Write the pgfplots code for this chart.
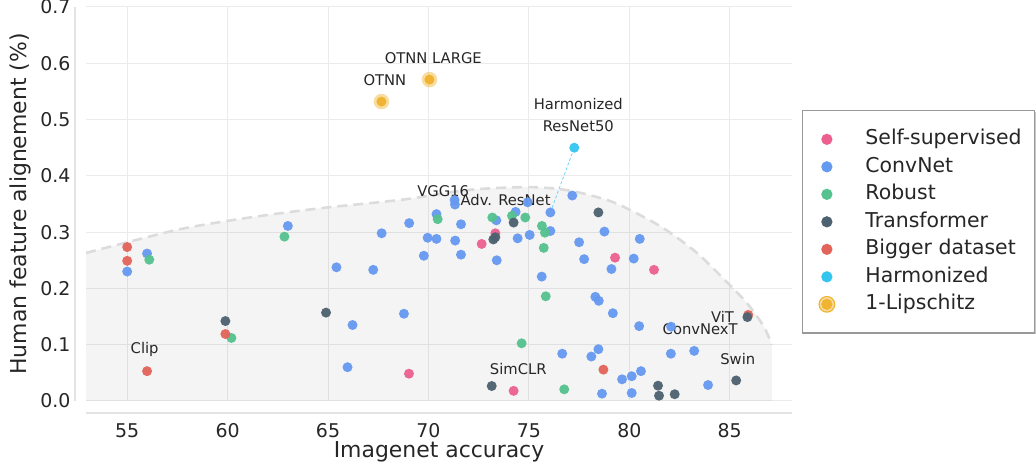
\documentclass[border=0pt]{standalone}
\usepackage{fontspec}
\setmainfont{DejaVu Sans}
\usepackage{pgfplots}
\pgfplotsset{compat=1.18}
\definecolor{cSelf}{HTML}{EC6090}
\definecolor{cConv}{HTML}{6699F0}
\definecolor{cRob}{HTML}{55C28F}
\definecolor{cTrans}{HTML}{4D6270}
\definecolor{cBig}{HTML}{E2645A}
\definecolor{cHarm}{HTML}{33C5EE}
\definecolor{cLip}{HTML}{F0B432}
\definecolor{txt}{HTML}{262626}
\definecolor{gridc}{HTML}{EBEBEB}
\definecolor{spinec}{HTML}{E3E3E3}
\definecolor{frontc}{HTML}{DCDCDC}
\pgfdeclareplotmark{halo}{%
  \pgfscope\pgfsetfillopacity{0.45}\pgfpathcircle{\pgfpointorigin}{7.8bp}\pgfusepath{fill}\endpgfscope
  \pgfpathcircle{\pgfpointorigin}{5bp}\pgfusepath{fill}}
\pgfdeclareplotmark{dotm}{%
  \pgfpathcircle{\pgfpointorigin}{5bp}\pgfusepath{fill}}
\pgfplotsset{
  lgdot/.style={legend image code/.code={\fill[#1] (20bp,0bp) circle (5bp); \path (0bp,0bp) (40bp,0bp);}},
  lghalo/.style={legend image code/.code={\fill[#1, fill opacity=0.45] (20bp,0bp) circle (7.8bp); \fill[#1] (20bp,0bp) circle (5bp); \path (0bp,0bp) (40bp,0bp);}},
  dot/.style={only marks, mark=dotm, mark options={draw=none, fill=#1, fill opacity=0.95}, forget plot},
}
\newcommand{\lgd}[1]{\makebox[165bp][l]{#1}}
\newcommand{\ann}{\fontsize{14.8}{17}\selectfont}
\begin{document}
\begin{tikzpicture}
% legend shadow (legend box lies at about (716,69)-(947,291) bp from the axis corner)
\fill[black, opacity=0.22] (719bp,66.5bp) rectangle (949.5bp,288.5bp);
\begin{axis}[name=ax, at={(0,0)}, anchor=south west, scale only axis,
  width=706bp, height=394bp,
  xmin=52.95, xmax=88.1, ymin=0, ymax=0.7,
  xtick={55,60,65,70,75,80,85}, ytick={0,0.1,0.2,0.3,0.4,0.5,0.6,0.7},
  grid=major, major grid style={draw=gridc, line width=1bp},
  axis line style={draw=none}, major tick length=0pt, tick style={draw=none},
  /pgf/number format/assume math mode=true,
  ticklabel style={font=\fontsize{19}{22}\selectfont, text=txt},
  xticklabel style={anchor=center, yshift=-30bp},
  yticklabel style={anchor=east, xshift=-12bp, /pgf/number format/.cd, fixed, fixed zerofill, precision=1},
  xlabel={Imagenet accuracy}, ylabel={Human feature alignement (\%)},
  label style={font=\fontsize{22}{26}\selectfont, text=txt},
  xlabel style={at={(axis description cs:0.5,-0.129)}, anchor=center},
  ylabel style={at={(axis description cs:-0.0935,0.5)}, anchor=center},
  legend cell align=left,
  legend style={at={(axis description cs:1.0137,0.7386)}, anchor=north west,
    draw=gray!80, line width=1.2bp, fill=white, text=txt,
    font=\fontsize{20.5}{24}\selectfont,
    inner xsep=4bp, inner ysep=19bp, row sep=8bp, column sep=18bp,
    nodes={inner sep=0bp, text height=15bp, text depth=4.5bp}},
]
% legend entries
\addlegendimage{lgdot=cSelf}
\addlegendentry{\lgd{Self-supervised}}
\addlegendimage{lgdot=cConv}
\addlegendentry{\lgd{ConvNet}}
\addlegendimage{lgdot=cRob}
\addlegendentry{\lgd{Robust}}
\addlegendimage{lgdot=cTrans}
\addlegendentry{\lgd{Transformer}}
\addlegendimage{lgdot=cBig}
\addlegendentry{\lgd{Bigger dataset}}
\addlegendimage{lgdot=cHarm}
\addlegendentry{\lgd{Harmonized}}
\addlegendimage{lghalo=cLip}
\addlegendentry{\lgd{1-Lipschitz}}
% frontier
\addplot[draw=none, fill=black, fill opacity=0.045, smooth, forget plot] coordinates {
 (52.95,0.263) (55,0.282) (57.6,0.305) (60,0.320) (62.5,0.333) (65,0.344) (67.5,0.353) (69.2,0.360)
 (72,0.375) (75,0.380) (77,0.374) (78.9,0.357) (80,0.340) (81.7,0.307) (83.4,0.262) (85,0.206)
 (85.9,0.172) (86.7,0.132) (87.1,0.0995)} \closedcycle;
\addplot[frontc, line width=2.6bp, dash pattern=on 10bp off 6bp, smooth, forget plot] coordinates {
 (52.95,0.263) (55,0.282) (57.6,0.305) (60,0.320) (62.5,0.333) (65,0.344) (67.5,0.353) (69.2,0.360)
 (72,0.375) (75,0.380) (77,0.374) (78.9,0.357) (80,0.340) (81.7,0.307) (83.4,0.262) (85,0.206)
 (85.9,0.172) (86.7,0.132) (87.1,0.0995)};
\addplot[cHarm!70, line width=0.8bp, dash pattern=on 3bp off 2bp, forget plot] coordinates {(76.07,0.335) (77.26,0.450)};
% Self-supervised
\addplot[dot=cSelf] coordinates {(72.65,0.279) (73.33,0.298) (69.03,0.0485) (74.24,0.018) (79.29,0.2546) (81.23,0.233)};
% ConvNet
\addplot[dot=cConv] coordinates {
 (55.0,0.230) (55.99,0.262) (63.0,0.311) (65.42,0.2375) (67.25,0.233) (67.67,0.298) (69.04,0.316)
 (69.96,0.290) (70.4,0.288) (70.4,0.332) (71.3,0.357) (71.32,0.349) (71.33,0.285) (71.62,0.314)
 (71.62,0.260) (69.77,0.258) (73.38,0.321) (73.4,0.250) (74.34,0.336) (74.94,0.353) (74.44,0.289)
 (75.04,0.295) (76.07,0.302) (76.07,0.335) (75.64,0.221) (77.16,0.365) (78.76,0.301) (77.5,0.282)
 (80.52,0.288) (77.75,0.252) (80.22,0.253) (79.11,0.2345) (78.31,0.185) (78.48,0.178) (79.18,0.156)
 (80.49,0.133) (82.08,0.132) (68.78,0.155) (66.22,0.135) (65.97,0.060) (76.66,0.084) (78.46,0.092)
 (78.11,0.079) (82.07,0.084) (83.23,0.089) (79.64,0.0385) (80.12,0.044) (80.58,0.053) (78.64,0.013)
 (80.12,0.0142) (83.92,0.0284)};
% Robust
\addplot[dot=cRob] coordinates {
 (56.1,0.251) (62.83,0.292) (60.19,0.112) (70.46,0.323) (73.18,0.326) (74.16,0.329) (74.82,0.326)
 (75.65,0.311) (75.8,0.299) (75.74,0.272) (75.84,0.186) (74.64,0.1025) (76.76,0.0207)};
% Bigger dataset
\addplot[dot=cBig] coordinates {(55.0,0.2735) (55.0,0.249) (59.89,0.119) (55.99,0.053) (78.71,0.0557) (85.92,0.153)};
% Transformer
\addplot[dot=cTrans] coordinates {
 (59.89,0.142) (64.9,0.157) (73.23,0.287) (73.33,0.291) (74.24,0.317) (78.46,0.335) (85.88,0.149)
 (73.15,0.0266) (81.43,0.0272) (81.48,0.0094) (82.26,0.012) (85.32,0.0365)};
% Harmonized
\addplot[dot=cHarm] coordinates {(77.26,0.450)};
% 1-Lipschitz
\addplot[only marks, mark=halo, mark options={draw=none, fill=cLip}, forget plot] coordinates {(67.66,0.532) (70.05,0.571)};
% annotations
\node[font=\ann, text=txt] at (axis cs:55.87,0.0924) {Clip};
\node[font=\ann, text=txt] at (axis cs:70.73,0.373) {VGG16};
\node[font=\ann, text=txt] at (axis cs:73.84,0.357) {Adv. ResNet};
\node[font=\ann, text=txt] at (axis cs:74.47,0.0568) {SimCLR};
\node[font=\ann, text=txt] at (axis cs:70.24,0.610) {OTNN LARGE};
\node[font=\ann, text=txt] at (axis cs:67.83,0.570) {OTNN};
\node[font=\ann, text=txt] at (axis cs:77.46,0.5275) {Harmonized};
\node[font=\ann, text=txt] at (axis cs:77.46,0.489) {ResNet50};
\node[font=\ann, text=txt] at (axis cs:84.64,0.1497) {ViT};
\node[font=\ann, text=txt] at (axis cs:83.53,0.1284) {ConvNexT};
\node[font=\ann, text=txt] at (axis cs:85.4,0.0746) {Swin};
\end{axis}
\draw[spinec, line width=1.3bp] ([xshift=-11bp]ax.south west) -- ([xshift=-11bp]ax.north west);
\draw[spinec, line width=1.3bp] ([yshift=-12bp]ax.south west) -- ([yshift=-12bp]ax.south east);
\pgfresetboundingbox
\useasboundingbox ([xshift=-86bp,yshift=-68bp]ax.south west) rectangle ([xshift=244bp,yshift=7bp]ax.north east);
\end{tikzpicture}
\end{document}
